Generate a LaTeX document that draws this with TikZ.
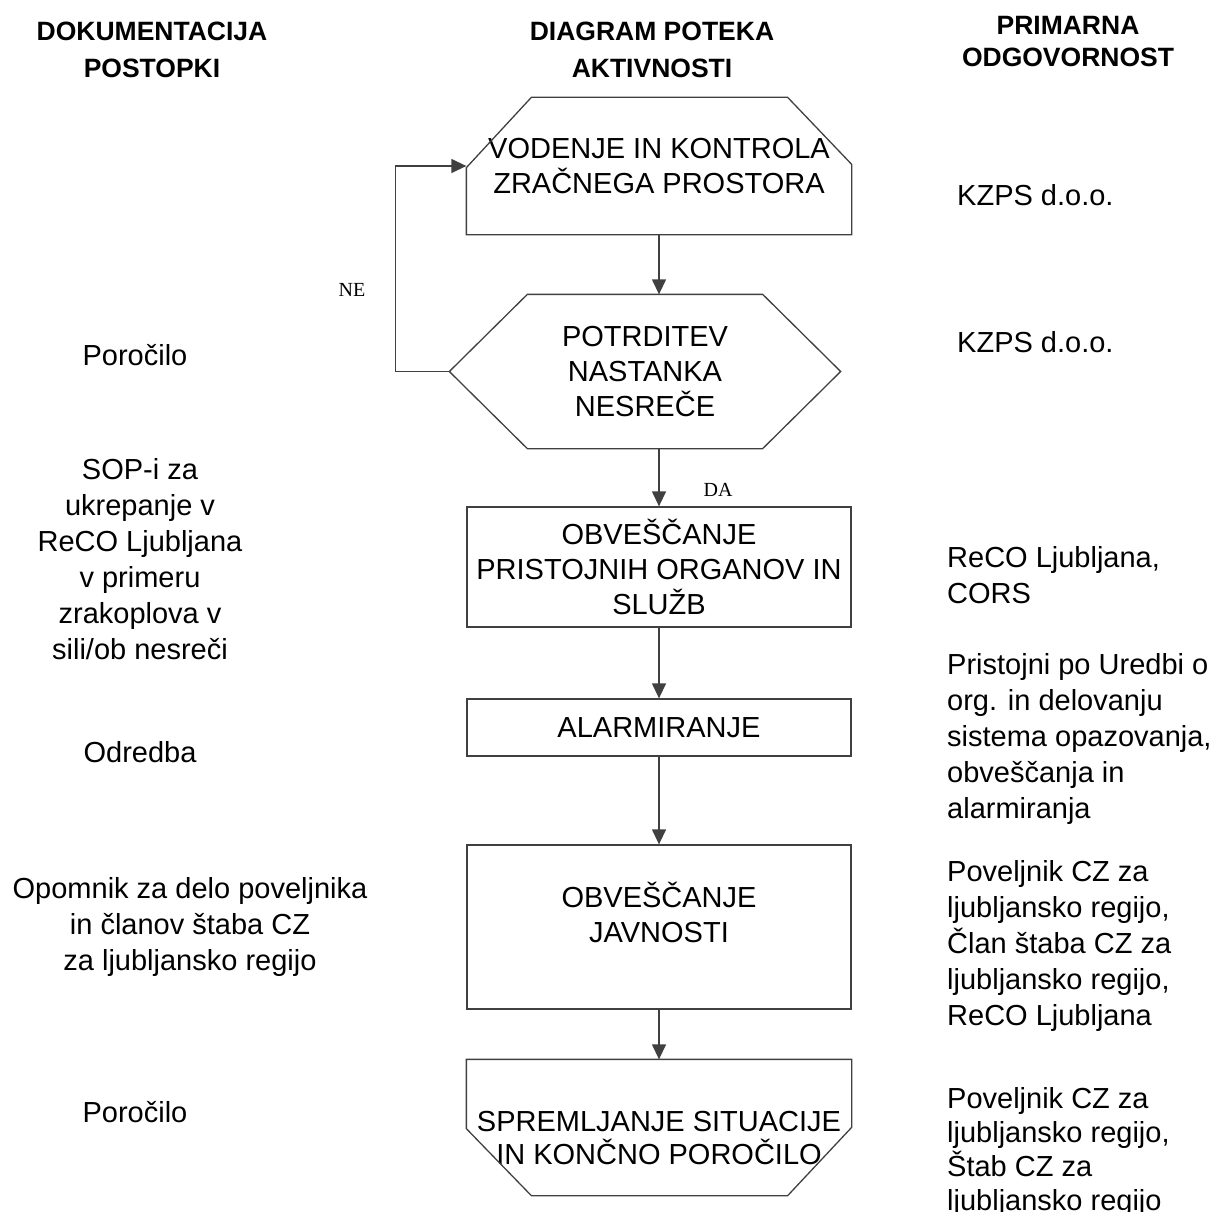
\documentclass[tikz,border=0pt]{standalone}
\usepackage{fontspec}
\usepackage{tikz}
\setmainfont{Liberation Sans}
\newfontfamily\yesnofont{Liberation Serif}
\usetikzlibrary{arrows.meta, positioning, calc}

\begin{document}
\begin{tikzpicture}[x=1pt, y=-1pt,
    flowbox/.style={draw=black!75, line width=1.3pt, minimum width=384pt, inner sep=0pt,
        align=center, font=\fontsize{29}{35}\selectfont},
    ghostbox/.style={flowbox, draw=none},
    outline/.style={draw=black!75, line width=1.3pt, line join=miter},
    flowline/.style={draw=black!75, line width=1.3pt, -{Triangle[length=15pt, width=14pt]}},
    headtext/.style={align=center, inner sep=0pt, font=\bfseries\fontsize{26.5}{37}\selectfont},
    doctext/.style={align=center, inner sep=0pt, font=\fontsize{29}{36}\selectfont},
    resptext/.style={align=left, anchor=west, inner sep=0pt, font=\fontsize{29}{36}\selectfont},
    yesno/.style={inner sep=0pt, font=\yesnofont\fontsize{20}{24}\selectfont}]
\useasboundingbox (0,0) rectangle (1215,1212);

% column heads
\node[headtext] (headdoc) at (152,50) {DOKUMENTACIJA\\POSTOPKI};
\node[headtext] (headflow) at (652,50) {DIAGRAM POTEKA\\AKTIVNOSTI};
\node[headtext, font=\bfseries\fontsize{26.5}{32}\selectfont] (headresp) at (1068,42) {PRIMARNA\\ODGOVORNOST};

% activity flow
\node[ghostbox, minimum height=136pt] (vodenje) at (659,166) {VODENJE IN KONTROLA\\ZRAČNEGA PROSTORA};
\draw[outline] (vodenje.south west) -- ++(0,-67) -- ([xshift=65pt]vodenje.north west)
    -- ([xshift=-64pt]vodenje.north east) -- ++(64,67) -- (vodenje.south east) -- cycle;

\node[ghostbox, minimum width=390pt, minimum height=153pt] (potrditev) at (645,371.5) {POTRDITEV\\NASTANKA\\NESREČE};
\draw[outline] (potrditev.west) -- ([xshift=78pt]potrditev.north west) -- ([xshift=-78pt]potrditev.north east)
    -- (potrditev.east) -- ([xshift=-78pt]potrditev.south east) -- ([xshift=78pt]potrditev.south west) -- cycle;

\node[flowbox, minimum height=120pt] (obvescanje) at (659,567) {OBVEŠČANJE\\PRISTOJNIH ORGANOV IN\\SLUŽB};
\node[flowbox, minimum height=57pt] (alarm) at (659,727.5) {ALARMIRANJE};
\node[flowbox, minimum height=164pt,
    label={[align=center, font=\fontsize{29}{35}\selectfont, yshift=15pt]center:OBVEŠČANJE\\JAVNOSTI}] (javnost) at (659,927) {};

\node[ghostbox, minimum height=135pt,
    label={[align=center, font=\fontsize{29}{33}\selectfont, yshift=-11pt]center:SPREMLJANJE SITUACIJE\\IN KONČNO POROČILO}] (spremljanje) at (659,1127.5) {};
\draw[outline] (spremljanje.north west) -- (spremljanje.north east) -- ++(0,68)
    -- ([xshift=-64pt]spremljanje.south east) -- ([xshift=65pt]spremljanje.south west)
    -- ++(-65,-67) -- cycle;

% connectors
\draw[flowline] (vodenje.south) -- (vodenje.south |- potrditev.north);
\draw[flowline] (potrditev.south -| obvescanje.north) -- (obvescanje.north);
\draw[flowline] (obvescanje) -- (alarm);
\draw[flowline] (alarm) -- (javnost);
\draw[flowline] (javnost) -- (spremljanje);
\draw[flowline] (potrditev.west) -- ++(-54,0) |- (vodenje.west);
\node[yesno] (ne) at (352,290) {NE};
\node[yesno] (da) at (718,490) {DA};

% documentation
\node[doctext] (porocilo) at (135,355) {Poročilo};
\node[doctext] (sop) at (140,559) {SOP-i za\\ukrepanje v\\ReCO Ljubljana\\v primeru\\zrakoplova v\\sili/ob nesreči};
\node[doctext] (odredba) at (140,752) {Odredba};
\node[doctext] (opomnik) at (190,927) {Opomnik za delo poveljnika\\in članov štaba CZ\\za ljubljansko regijo};
\node[doctext] (koncno) at (135,1112) {Poročilo};

% responsibility
\node[resptext] (kzpsa) at (957,195) {KZPS d.o.o.};
\node[resptext] (kzpsb) at (957,342) {KZPS d.o.o.};
\node[resptext] (reco) at (947,575) {ReCO Ljubljana,\\CORS};
\node[resptext] (pristojni) at (947,739) {Pristojni po Uredbi o\\org. in delovanju\\sistema opazovanja,\\obveščanja in\\alarmiranja};
\node[resptext] (poveljnika) at (947,946) {Poveljnik CZ za\\ljubljansko regijo,\\Član štaba CZ za\\ljubljansko regijo,\\ReCO Ljubljana};
\node[resptext, font=\fontsize{29}{34}\selectfont] (poveljnikb) at (947,1152) {Poveljnik CZ za\\ljubljansko regijo,\\Štab CZ za\\ljubljansko regijo};
\end{tikzpicture}
\end{document}
